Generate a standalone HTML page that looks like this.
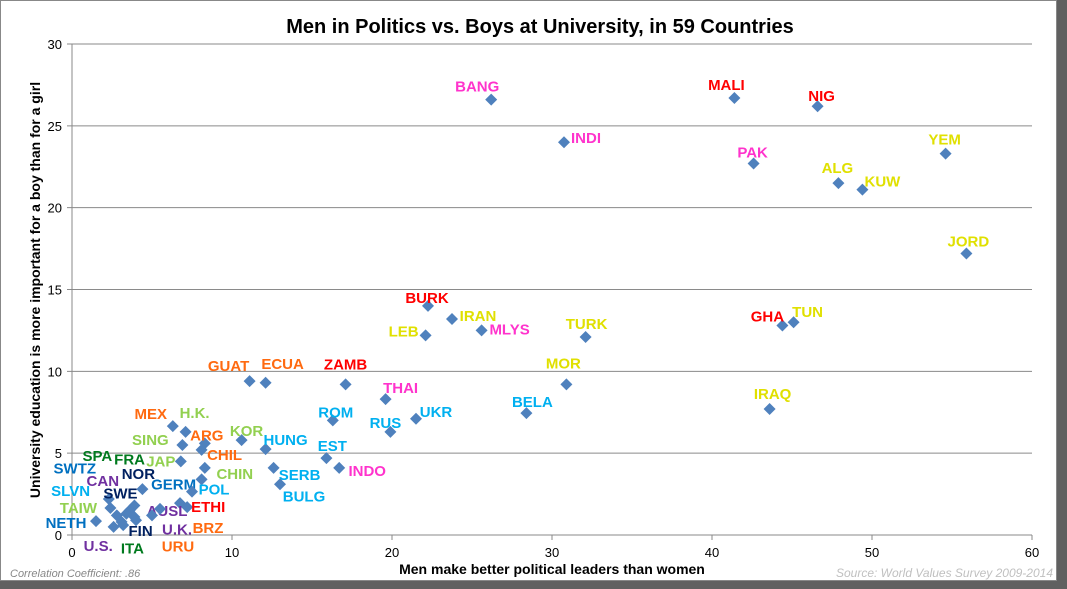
<!DOCTYPE html>
<html><head><meta charset="utf-8"><style>
html,body{margin:0;padding:0;background:#606060;width:1067px;height:589px;overflow:hidden}
#card{position:absolute;left:0;top:0;width:1057px;height:581px;background:#fff;border:1px solid #888;box-sizing:border-box}
svg{position:absolute;left:0;top:0}
text{font-family:"Liberation Sans",Arial,sans-serif}
</style></head><body>
<div id="card"></div>
<svg id="chart" width="1067" height="589"></svg>
<script>
const names=["BANG","MALI","NIG","INDI","PAK","YEM","ALG","KUW","JORD","BURK","IRAN","LEB","MLYS","TURK","GHA","TUN","MOR","IRAQ","BELA","UKR","RUS","THAI","ROM","ZAMB","GUAT","ECUA","EST","INDO","HUNG","SERB","BULG","KOR","MEX","H.K.","SING","ARG","CHIL","JAP","CHIN","GERM","POL","NOR","CAN","SWE","AUSL","ETHI","U.K.","BRZ","FRA","SPA","SWTZ","SLVN","TAIW","NETH","FIN","U.S.","ITA","URU"];
const menLeaders=[26.2,41.4,46.6,30.75,42.6,54.6,47.9,49.4,55.9,22.25,23.75,22.1,25.6,32.1,44.4,45.1,30.9,43.6,28.4,21.5,19.9,19.6,16.3,17.1,11.1,12.1,15.9,16.7,12.1,12.6,13.0,10.6,6.3,7.1,6.9,8.3,8.1,6.8,8.3,8.1,7.5,4.4,2.3,3.9,6.75,7.2,5.0,5.5,3.6,2.4,2.8,3.1,3.9,1.5,2.6,3.2,3.4,4.0];
const boysUniversity=[26.6,26.7,26.2,24.0,22.7,23.3,21.5,21.1,17.2,14.0,13.2,12.2,12.5,12.1,12.8,13.0,9.2,7.7,7.45,7.1,6.3,8.3,7.0,9.2,9.4,9.3,4.7,4.1,5.25,4.1,3.1,5.8,6.65,6.3,5.5,5.6,5.2,4.5,4.1,3.4,2.65,2.8,2.2,1.8,1.95,1.7,1.2,1.6,1.5,1.65,1.2,0.8,1.1,0.85,0.5,0.6,1.3,0.9];
const groups=["m","r","r","m","m","y","y","y","y","r","y","y","m","y","r","y","y","y","b","b","b","m","b","r","o","o","b","m","b","b","b","g","o","g","g","o","o","g","g","mb","b","n","p","n","p","r","p","o","dg","dg","mb","b","g","mb","n","p","dg","o"];
const xTicks=[0,10,20,30,40,50,60];
const yTicks=[0,5,10,15,20,25,30];
// label offsets (styling, px)
const ldx=[-14,-8,4,22,-1,-1,-1,20,2,-1,26,-22,28,1,-15,14,-3,3,6,20,-5,15,3,0,-21,17,6,28,20,26,24,5,-22,9,-32,2,23,-20,30,-28,22,-4,-6,-14,-13,21,25,48,0,-13,-42,-51,-56,-30,27,-25,6,42];
const ldy=[-14,-14,-11,-5,-12,-15,-16,-9,-13,-9,-4,-5,-2,-14,-10,-11,-22,-16,-12,-8,-10,-12,-9,-21,-16,-20,-13,2,-10,6,11,-10,-13,-20,-6,-9,4,-1,5,4,-3,-16,-19,-13,7,-1,13,18,-52,-53,-48,-32,-10,1,3,20,34,25];
const colors={r:"#FF0000",m:"#FF33CC",y:"#E0E000",o:"#FF6A10",b:"#00B0F0",g:"#92D050",dg:"#007A1E",n:"#002060",mb:"#0070C0",p:"#7030A0"};
const X0=72,X1=1032,Y0=535,Y1=44;
const sx=v=>X0+(v-0)/60*(X1-X0);
const sy=v=>Y0-(v-0)/30*(Y0-Y1);
const svg=document.getElementById('chart');
const NS="http://www.w3.org/2000/svg";
function mk(t,a,txt){const e=document.createElementNS(NS,t);for(const k in a)e.setAttribute(k,a[k]);if(txt!==undefined)e.textContent=txt;svg.appendChild(e);return e;}
yTicks.forEach(v=>{
 const g=mk('line',{x1:X0-5,x2:X1,y1:sy(v),y2:sy(v),stroke:'#8a8a8a','stroke-width':1});
 
 
 const t=mk('text',{x:X0-10,y:sy(v)+5,'text-anchor':'end','font-size':13,fill:'#000'},v);
 
 
});
const ax=mk('line',{x1:X0,x2:X0,y1:Y1,y2:Y0,stroke:'#888'});


xTicks.forEach(v=>{
 const l=mk('line',{x1:sx(v),x2:sx(v),y1:Y0,y2:Y0+5,stroke:'#888'});
 
 
 const t=mk('text',{x:sx(v),y:Y0+22,'text-anchor':'middle','font-size':13,fill:'#000'},v);
 
 
});
names.forEach((n,i)=>{
 const cx=sx(menLeaders[i]),cy=sy(boysUniversity[i]);
 const p=mk('polygon',{points:`${cx},${cy-6} ${cx+6},${cy} ${cx},${cy+6} ${cx-6},${cy}`,fill:'#4F81BD'});
 
 
 const t=mk('text',{x:cx+ldx[i],y:cy+ldy[i]+6,'text-anchor':'middle','font-size':15,'font-weight':'bold',fill:colors[groups[i]]},n);
 
 
});
const title=mk('text',{x:540,y:33,'text-anchor':'middle','font-size':20,'font-weight':'bold',fill:'#000'},'Men in Politics vs. Boys at University, in 59 Countries');


const xt=mk('text',{x:552,y:574,'text-anchor':'middle','font-size':14,'font-weight':'bold',fill:'#000'},'Men make better political leaders than women');


const yt=mk('text',{x:0,y:0,'text-anchor':'middle','font-size':14,'font-weight':'bold',fill:'#000',transform:'translate(40,290) rotate(-90)'},'University education is more important for a boy than for a girl');


const cc=mk('text',{x:10,y:577,'font-size':11,'font-style':'italic',fill:'#888'},'Correlation Coefficient: .86');


const src=mk('text',{x:1053,y:577,'text-anchor':'end','font-size':12,'font-style':'italic',fill:'#c0c0c0'},'Source: World Values Survey 2009-2014');


</script>
</body></html>
